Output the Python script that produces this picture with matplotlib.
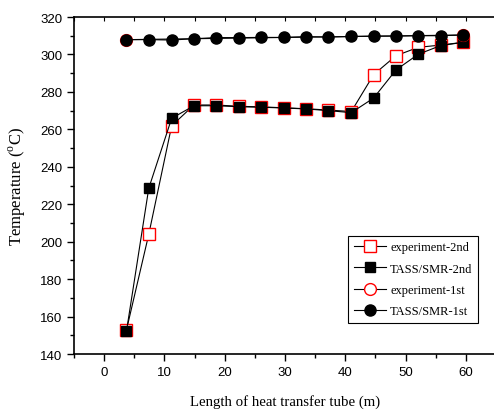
import numpy as np
import matplotlib
matplotlib.use("Agg")
import matplotlib.pyplot as plt
from matplotlib.ticker import MultipleLocator

# tube positions (m)
x = [3.7, 7.4, 11.2, 14.9, 18.6, 22.3, 26.1, 29.8, 33.5, 37.2, 41.0, 44.7, 48.4, 52.1, 55.8, 59.6]

exp_2nd = [152.8, 203.9, 261.9, 273.0, 273.0, 272.3, 272.0, 271.5, 271.0, 270.3, 269.5,
           289.2, 299.3, 303.8, 305.0, 306.5]
tass_2nd = [152.1, 228.5, 265.9, 272.6, 272.6, 272.1, 271.8, 271.4, 270.9, 270.0, 268.9,
            276.7, 291.7, 300.1, 304.7, 306.5]

x_exp_1st = [3.7, 59.6]
exp_1st = [307.9, 310.4]
tass_1st = [307.9, 307.9, 307.7, 308.4, 309.0, 309.0, 309.1, 309.1, 309.5, 309.3, 309.6,
            309.8, 309.8, 310.0, 310.0, 310.4]

serif = "Liberation Serif"
plt.rcParams["mathtext.fontset"] = "custom"
plt.rcParams["mathtext.rm"] = serif

fig = plt.figure(figsize=(4.94, 4.14), dpi=100)
ax = fig.add_axes([74 / 494, 1 - 355 / 414, (496 - 74) / 494, (355 - 18) / 414])

ax.plot(x, exp_2nd, color="black", lw=0.8, marker="s", ms=8, mfc="white", mec="red",
        mew=1.0, label="experiment-2nd")
ax.plot(x, tass_2nd, color="black", lw=0.8, marker="s", ms=7.5, mfc="black", mec="black",
        label="TASS/SMR-2nd")
ax.plot(x_exp_1st, exp_1st, color="black", lw=0.8, marker="o", ms=8.5, mfc="white", mec="red",
        mew=1.0, label="experiment-1st")
ax.plot(x, tass_1st, color="black", lw=0.8, marker="o", ms=8, mfc="black", mec="black",
        label="TASS/SMR-1st")

ax.set_xlim(-5, 65)
ax.set_ylim(140, 320)
ax.xaxis.set_major_locator(MultipleLocator(10))
ax.xaxis.set_minor_locator(MultipleLocator(5))
ax.yaxis.set_major_locator(MultipleLocator(20))
ax.yaxis.set_minor_locator(MultipleLocator(10))
ax.set_xticks([0, 10, 20, 30, 40, 50, 60])

ax.tick_params(which="major", direction="out", length=5, width=1, labelsize=9.5,
               top=False, right=False)
ax.tick_params(which="minor", direction="out", length=3, width=1, top=False, right=False)
for lab in ax.get_xticklabels() + ax.get_yticklabels():
    lab.set_fontfamily("Liberation Sans")

# small inward ticks on the top frame
sec = ax.secondary_xaxis("top")
sec.set_xticks(np.arange(-5, 66, 5))
sec.tick_params(direction="in", length=3, width=0.8, labeltop=False)
sec.spines["top"].set_visible(False)

for s in ax.spines.values():
    s.set_linewidth(1.2)

ax.set_xlabel("Length of heat transfer tube (m)", fontfamily=serif, fontsize=10.7)
ax.set_ylabel(r"Temperature ($^\mathregular{o}$C)", fontfamily=serif, fontsize=12)
ax.xaxis.set_label_coords(0.5, -0.12)
ax.yaxis.set_label_coords(-0.11, 0.5)

leg = ax.legend(loc="lower right", bbox_to_anchor=(478 / 494, 1 - 324 / 414),
                bbox_transform=fig.transFigure, borderaxespad=0,
                prop={"family": serif, "size": 9},
                frameon=True, fancybox=False, edgecolor="black", framealpha=1,
                handlelength=2.6, handletextpad=0.3, borderpad=0.45, labelspacing=0.75)
leg.get_frame().set_linewidth(0.8)

fig.savefig("out.png", dpi=100)
